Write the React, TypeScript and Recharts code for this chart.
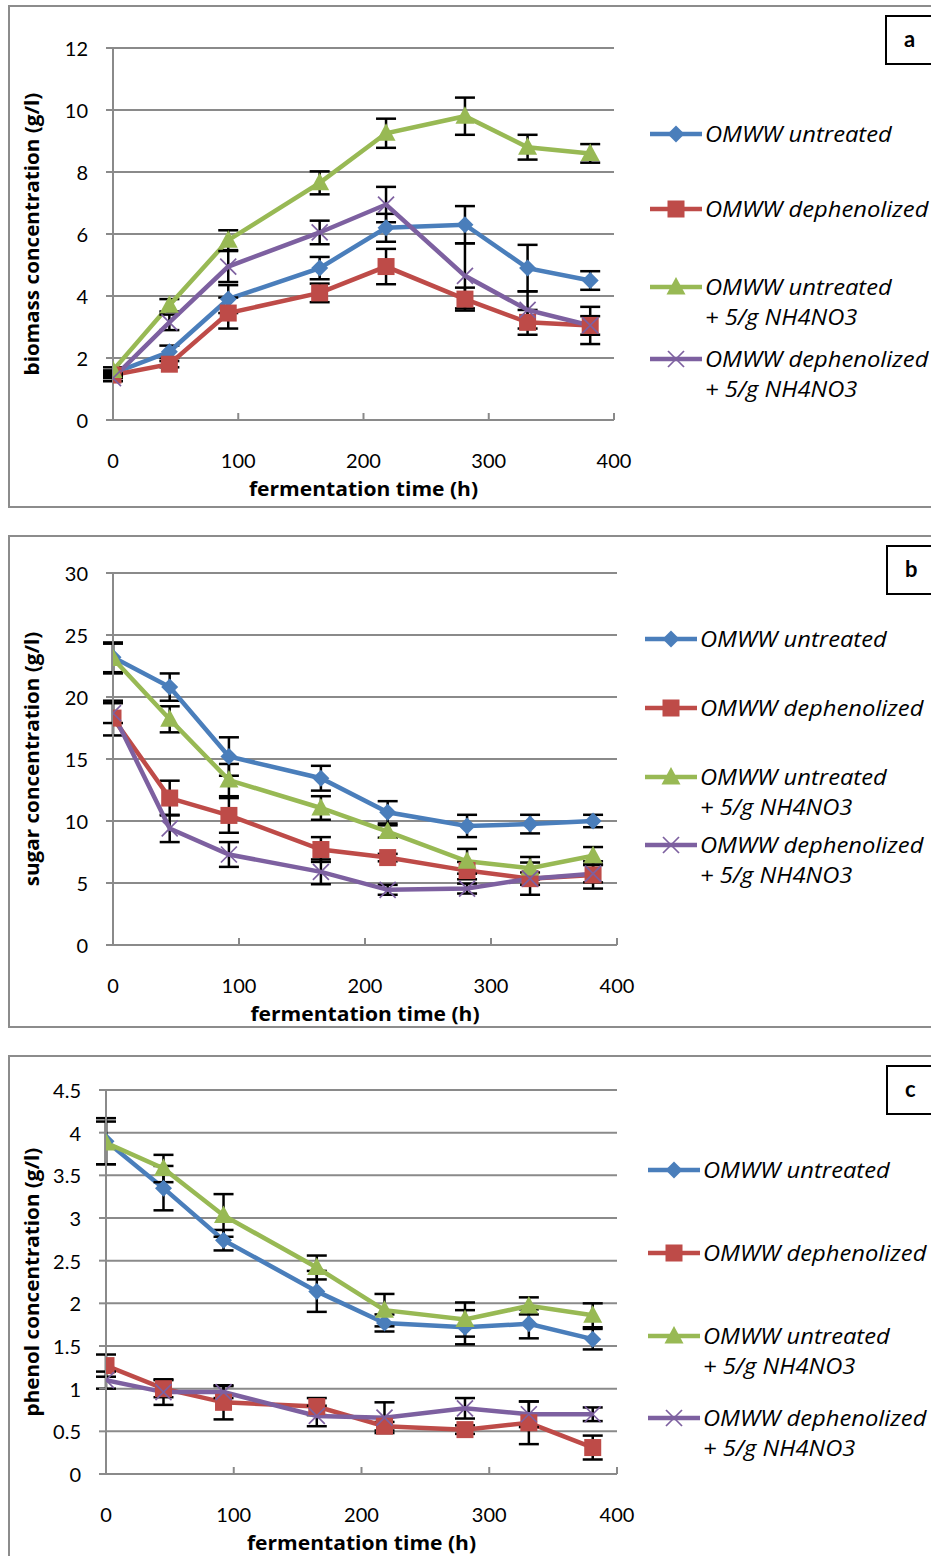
import React from "react";
import { LineChart, Line, XAxis, YAxis, CartesianGrid, ErrorBar } from "recharts";

// ---------- data ----------
const hours = [0, 45, 92, 165, 218, 281, 331, 381];
const xTicks = [0, 100, 200, 300, 400];
const seriesNames = ["OMWW untreated", "OMWW dephenolized", "OMWW untreated", "OMWW dephenolized"];
const seriesSub = ["", "", "+ 5/g NH4NO3", "+ 5/g NH4NO3"];

// biomass (panel a)
const biomassUntreated = [1.5, 2.2, 3.9, 4.9, 6.2, 6.3, 4.9, 4.5];
const biomassDephen = [1.45, 1.8, 3.45, 4.1, 4.95, 3.9, 3.15, 3.05];
const biomassUntreatedN = [1.6, 3.7, 5.8, 7.65, 9.25, 9.8, 8.8, 8.6];
const biomassDephenN = [1.35, 3.15, 4.95, 6.05, 6.95, 4.65, 3.55, 3.05];
const biomassUntreatedErr = [0.1, 0.2, 0.45, 0.36, 0.45, 0.6, 0.75, 0.3];
const biomassDephenErr = [0.1, 0.1, 0.5, 0.3, 0.57, 0.37, 0.4, 0.6];
const biomassUntreatedNErr = [0.1, 0.2, 0.32, 0.37, 0.47, 0.6, 0.4, 0.3];
const biomassDephenNErr = [0.1, 0.25, 0.5, 0.38, 0.57, 1.05, 0.6, 0.3];
const biomassTicks = [0, 2, 4, 6, 8, 10, 12];

// sugar (panel b)
const sugarUntreated = [23.2, 20.8, 15.2, 13.45, 10.7, 9.6, 9.75, 10.0];
const sugarDephen = [18.3, 11.85, 10.45, 7.7, 7.05, 6.0, 5.35, 5.65];
const sugarUntreatedN = [23.1, 18.2, 13.3, 11.05, 9.15, 6.75, 6.2, 7.2];
const sugarDephenN = [18.7, 9.4, 7.3, 5.9, 4.45, 4.55, 5.35, 5.75];
const sugarUntreatedErr = [1.2, 1.1, 1.55, 1.0, 0.9, 0.9, 0.75, 0.5];
const sugarDephenErr = [1.4, 1.4, 1.4, 1.0, 0.3, 0.7, 1.3, 1.1];
const sugarUntreatedNErr = [1.2, 1.05, 1.3, 0.95, 0.5, 1.0, 0.9, 0.7];
const sugarDephenNErr = [0.8, 1.1, 1.0, 1.0, 0.4, 0.4, 0.5, 0.7];
const sugarTicks = [0, 5, 10, 15, 20, 25, 30];

// phenol (panel c)
const phenolUntreated = [3.9, 3.35, 2.74, 2.14, 1.77, 1.72, 1.76, 1.58];
const phenolDephen = [1.27, 1.0, 0.84, 0.79, 0.56, 0.52, 0.6, 0.31];
const phenolUntreatedN = [3.88, 3.58, 3.03, 2.42, 1.92, 1.81, 1.97, 1.86];
const phenolDephenN = [1.1, 0.96, 0.96, 0.68, 0.66, 0.77, 0.7, 0.7];
const phenolUntreatedErr = [0.27, 0.26, 0.12, 0.24, 0.1, 0.2, 0.17, 0.12];
const phenolDephenErr = [0.13, 0.1, 0.2, 0.1, 0.05, 0.05, 0.25, 0.14];
const phenolUntreatedNErr = [0.25, 0.16, 0.25, 0.14, 0.19, 0.2, 0.1, 0.14];
const phenolDephenNErr = [0.1, 0.15, 0.07, 0.12, 0.18, 0.12, 0.15, 0.08];
const phenolTicks = [0, 0.5, 1, 1.5, 2, 2.5, 3, 3.5, 4, 4.5];

// ---------- styling ----------
const COLORS = ["#4A7EBB", "#BE4B48", "#98B954", "#7D60A0"];
const GRID = "#8A8A8A";
const FONT = "Lato, 'Open Sans', sans-serif";
const FONT2 = "'Open Sans', Lato, sans-serif";

function buildRows(vals: number[][], errs: number[][]) {
  return hours.map((h, i) => ({
    t: h,
    s0: vals[0][i], s1: vals[1][i], s2: vals[2][i], s3: vals[3][i],
    e0: errs[0][i], e1: errs[1][i], e2: errs[2][i], e3: errs[3][i],
  }));
}

function Marker({ kind, cx, cy, color }: { kind: number; cx: number; cy: number; color: string }) {
  if (cx == null || cy == null || isNaN(cx) || isNaN(cy)) return null;
  if (kind === 0) {
    const r = 8.5;
    return <polygon points={`${cx},${cy - r} ${cx + r},${cy} ${cx},${cy + r} ${cx - r},${cy}`} fill={color} />;
  }
  if (kind === 1) {
    const s = 8.5;
    return <rect x={cx - s} y={cy - s} width={s * 2} height={s * 2} fill={color} />;
  }
  if (kind === 2) {
    const w = 9.5;
    return <polygon points={`${cx},${cy - 10} ${cx + w},${cy + 7.5} ${cx - w},${cy + 7.5}`} fill={color} />;
  }
  const r = 8;
  return (
    <g stroke={color} strokeWidth={1.7}>
      <line x1={cx - r} y1={cy - r} x2={cx + r} y2={cy + r} />
      <line x1={cx - r} y1={cy + r} x2={cx + r} y2={cy - r} />
    </g>
  );
}

type PanelCfg = {
  letter: string;
  top: number;
  height: number;
  borderTop: number;
  borderHeight: number;
  plotLeft: number;
  plotTop: number;
  plotBottom: number;
  plotRight: number;
  domain: [number, number];
  ticks: number[];
  yTitle: string;
  rows: any[];
  legendX: number;
  legendRows: number[];
  letterBox: [number, number];
};

function XTick(props: any) {
  const { x, y, payload } = props;
  return (
    <g>
      <line x1={x} x2={x} y1={y} y2={y - 7} stroke={GRID} strokeWidth={2} />
      <text x={x} y={y + 40} textAnchor="middle" dominantBaseline="central" fontSize={20} fontFamily={FONT} fill="#000">
        {payload.value}
      </text>
    </g>
  );
}

function YTick(props: any) {
  const { x, y, payload } = props;
  return (
    <text x={x} y={y} textAnchor="end" dominantBaseline="central" fontSize={20} fontFamily={FONT} fill="#000">
      {payload.value}
    </text>
  );
}

function LegendBlock({ cfg }: { cfg: PanelCfg }) {
  return (
    <>
      {seriesNames.map((name, i) => (
        <div key={i} style={{ position: "absolute", left: cfg.legendX, top: cfg.legendRows[i] - cfg.top }}>
          <svg width={56} height={24} style={{ position: "absolute", left: 0, top: -12 }}>
            <line x1={0} x2={52} y1={12} y2={12} stroke={COLORS[i]} strokeWidth={4.5} />
            <Marker kind={i} cx={26} cy={12} color={COLORS[i]} />
          </svg>
          <div
            style={{
              position: "absolute",
              left: 55,
              top: -15,
              fontFamily: FONT2,
              fontStyle: "italic",
              fontSize: 21,
              lineHeight: "30px",
              whiteSpace: "nowrap",
              color: "#000",
              transform: "scaleX(1.13)",
              transformOrigin: "0 0",
            }}
          >
            <div>{name}</div>
            {seriesSub[i] ? <div>{seriesSub[i]}</div> : null}
          </div>
        </div>
      ))}
    </>
  );
}

function Panel({ cfg }: { cfg: PanelCfg }) {
  const W = 931;
  const xAxisH = 60;
  const marginBottom = cfg.height - cfg.plotBottom - xAxisH;
  const plotH = cfg.plotBottom - cfg.plotTop;
  return (
    <div style={{ position: "absolute", left: 0, top: cfg.top, width: W, height: cfg.height }}>
      <div
        style={{
          position: "absolute",
          left: 8,
          top: cfg.borderTop - cfg.top,
          width: 940,
          height: cfg.borderHeight,
          border: "2px solid #8C8C8C",
          boxSizing: "border-box",
        }}
      />
      <div
        style={{
          position: "absolute",
          left: cfg.letterBox[0],
          top: cfg.letterBox[1] - cfg.top,
          width: 60,
          height: 50,
          border: "2px solid #000",
          boxSizing: "border-box",
          fontFamily: FONT,
          fontWeight: 700,
          fontSize: 22,
          lineHeight: "44px",
          paddingLeft: 17,
          background: "#fff",
        }}
      >
        {cfg.letter}
      </div>
      <LineChart
        width={W}
        height={cfg.height}
        data={cfg.rows}
        margin={{ top: cfg.plotTop, right: W - cfg.plotRight, left: 0, bottom: marginBottom }}
        style={{ position: "absolute", left: 0, top: 0 }}
      >
        <CartesianGrid horizontal vertical={false} stroke={GRID} strokeWidth={2} />
        <XAxis
          dataKey="t"
          type="number"
          domain={[0, 400]}
          ticks={xTicks}
          height={xAxisH}
          stroke={GRID}
          strokeWidth={2}
          tickLine={false}
          tickSize={0}
          tickMargin={0}
          tick={<XTick />}
          interval={0}
          allowDataOverflow
        />
        <YAxis
          type="number"
          domain={cfg.domain}
          ticks={cfg.ticks}
          width={cfg.plotLeft}
          stroke={GRID}
          strokeWidth={2}
          tickSize={7}
          tickMargin={18}
          tickLine={{ stroke: GRID, strokeWidth: 2 }}
          tick={<YTick />}
          interval={0}
          allowDataOverflow
        />
        {[0, 1, 2, 3].map((i) => (
          <Line
            key={i}
            dataKey={`s${i}`}
            stroke={COLORS[i]}
            strokeWidth={4.5}
            isAnimationActive={false}
            dot={(p: any) => <Marker key={`m${i}-${p.index}`} kind={i} cx={p.cx} cy={p.cy} color={COLORS[i]} />}
            activeDot={false}
          >
            <ErrorBar dataKey={`e${i}`} direction="y" width={10} strokeWidth={2.5} stroke="#000" isAnimationActive={false} />
          </Line>
        ))}
      </LineChart>
      <LegendBlock cfg={cfg} />
      <div
        style={{
          position: "absolute",
          left: cfg.plotLeft - 50,
          width: cfg.plotRight - cfg.plotLeft + 100,
          top: cfg.plotBottom + 69 - 13,
          height: 26,
          lineHeight: "26px",
          textAlign: "center",
          fontFamily: FONT2,
          fontWeight: 700,
          fontSize: 19.5,
          whiteSpace: "nowrap",
          transform: "scaleX(1.08)",
        }}
      >
        fermentation time (h)
      </div>
      <div
        style={{
          position: "absolute",
          left: 32 - 200,
          top: cfg.plotTop + plotH / 2 - 13,
          width: 400,
          height: 26,
          lineHeight: "26px",
          textAlign: "center",
          fontFamily: FONT2,
          fontWeight: 700,
          fontSize: 19.5,
          transform: "rotate(-90deg) scaleX(1.06)",
          whiteSpace: "nowrap",
        }}
      >
        {cfg.yTitle}
      </div>
    </div>
  );
}

const panels: PanelCfg[] = [
  {
    letter: "a",
    top: 0,
    height: 520,
    borderTop: 5,
    borderHeight: 503,
    plotLeft: 113,
    plotTop: 48,
    plotBottom: 420,
    plotRight: 614,
    domain: [0, 12],
    ticks: biomassTicks,
    yTitle: "biomass concentration (g/l)",
    rows: buildRows(
      [biomassUntreated, biomassDephen, biomassUntreatedN, biomassDephenN],
      [biomassUntreatedErr, biomassDephenErr, biomassUntreatedNErr, biomassDephenNErr]
    ),
    legendX: 650,
    legendRows: [134, 209, 287, 359],
    letterBox: [885, 15],
  },
  {
    letter: "b",
    top: 525,
    height: 510,
    borderTop: 535,
    borderHeight: 493,
    plotLeft: 113,
    plotTop: 573 - 525,
    plotBottom: 945 - 525,
    plotRight: 617,
    domain: [0, 30],
    ticks: sugarTicks,
    yTitle: "sugar concentration (g/l)",
    rows: buildRows(
      [sugarUntreated, sugarDephen, sugarUntreatedN, sugarDephenN],
      [sugarUntreatedErr, sugarDephenErr, sugarUntreatedNErr, sugarDephenNErr]
    ),
    legendX: 645,
    legendRows: [639, 708, 777, 845],
    letterBox: [886, 545],
  },
  {
    letter: "c",
    top: 1045,
    height: 511,
    borderTop: 1055,
    borderHeight: 510,
    plotLeft: 106,
    plotTop: 1090 - 1045,
    plotBottom: 1474 - 1045,
    plotRight: 617,
    domain: [0, 4.5],
    ticks: phenolTicks,
    yTitle: "phenol concentration (g/l)",
    rows: buildRows(
      [phenolUntreated, phenolDephen, phenolUntreatedN, phenolDephenN],
      [phenolUntreatedErr, phenolDephenErr, phenolUntreatedNErr, phenolDephenNErr]
    ),
    legendX: 648,
    legendRows: [1170, 1253, 1336, 1418],
    letterBox: [886, 1065],
  },
];

export default function App() {
  return (
    <div style={{ position: "absolute", left: 0, top: 0, width: 931, height: 1556, overflow: "hidden", background: "#fff" }}>
      {panels.map((p) => (
        <Panel key={p.letter} cfg={p} />
      ))}
    </div>
  );
}
